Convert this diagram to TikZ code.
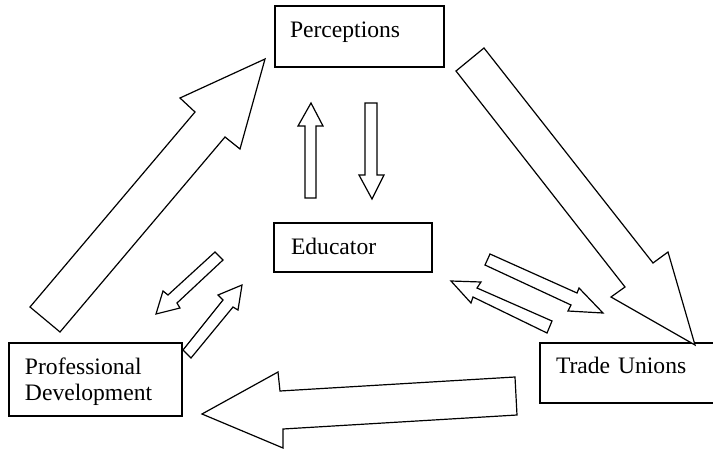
\documentclass[tikz,border=0pt]{standalone}
\usepackage{fontspec}
\setmainfont{Liberation Serif}
\begin{document}
\begin{tikzpicture}[x=0.5pt,y=-0.5pt,
  box/.style={draw=black, line width=0.6pt, rectangle, anchor=north west, outer sep=0pt, inner ysep=0pt, align=left,
    font=\fontsize{11.8}{14}\selectfont},
  blockarrow/.style={draw=black, fill=white, line width=0.6pt, line join=miter}]
\useasboundingbox (0,0) rectangle (713,450);
% boxes
\node[box, inner xsep=7.5pt, text width=69.5pt, text height=15.5pt, text depth=15pt] (perc) at (275,6) {Perceptions};
\node[box, inner xsep=8.5pt, text width=62pt, text height=15.5pt, text depth=9pt] (edu) at (274,223) {Educator};
\node[box, inner xsep=8pt, text width=70.5pt, text height=15.5pt, text depth=21pt] (pd) at (9,343) {Professional\\[-1pt]Development};
\node[box, inner xsep=8pt, text width=80pt, text height=15pt, text depth=15pt] (tu) at (540,343) {Trade Unions};
% big arrows
\draw[blockarrow] (30,307) -- (195,112) -- (180,98) -- (265,59) -- (240,149) -- (225,137) -- (60,332) -- cycle;
\draw[blockarrow] (456,71) -- (625,287) -- (611,297) -- (695,345) -- (668,252) -- (653,263) -- (484,48) -- cycle;
\draw[blockarrow] (202,414) -- (278,372) -- (280,391) -- (515,377) -- (517,415) -- (283,429) -- (283,448) -- cycle;
% small vertical arrows
\draw[blockarrow] (305,198) -- (305,126) -- (298,126) -- (311,103) -- (323,126) -- (316,126) -- (316,198) -- cycle;
\draw[blockarrow] (365,103) -- (365,175) -- (359,175) -- (372,199) -- (384,175) -- (377,175) -- (377,103) -- cycle;
% small arrows near Professional Development
\draw[blockarrow] (215,252) -- (168,295) -- (163,291) -- (156,314) -- (180,308) -- (177,303) -- (223,260) -- cycle;
\draw[blockarrow] (242,285) -- (218,295) -- (223,300) -- (183,350) -- (191,358) -- (233,307) -- (238,310) -- cycle;
% small arrows near Trade Unions
\draw[blockarrow] (490,254) -- (577,293) -- (579,288) -- (603,313) -- (568,311) -- (571,305) -- (485,265) -- cycle;
\draw[blockarrow] (451,281) -- (481,282) -- (477,288) -- (552,321) -- (547,333) -- (473,297) -- (471,303) -- cycle;
\end{tikzpicture}
\end{document}
